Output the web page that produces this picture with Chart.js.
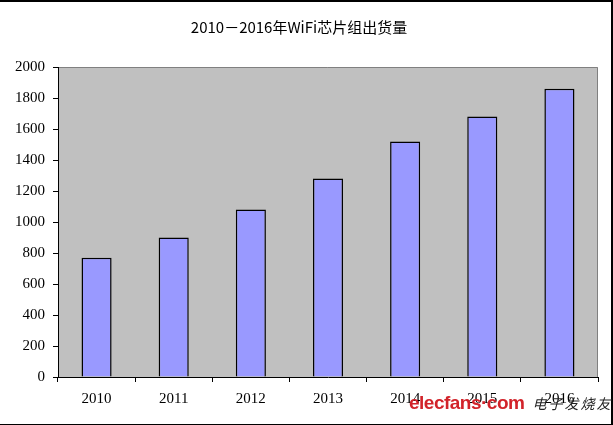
<!DOCTYPE html>
<html lang="zh">
<head>
    <meta charset="UTF-8">
    <title>2010-2016年WiFi芯片组出货量</title>
    <script src="https://cdn.jsdelivr.net/npm/chart.js"></script>
    <style>
        html, body { margin: 0; padding: 0; background: #fff; }
        #wrap { position: relative; width: 613px; height: 425px; }
        #frame { position: absolute; left: 0; top: 0; width: 611px; height: 422px;
                 border-top: 2px solid #000; border-right: 2px solid #000; border-bottom: 1px solid #000; pointer-events: none; }
        #wm { position: absolute; left: 409px; top: 392px; white-space: nowrap; }
        #wm .en { font-family: "Liberation Sans", Arial, sans-serif; font-weight: bold; font-size: 19px; color: #d2232a; letter-spacing: -0.5px; }
        #wm .cn { font-family: "Noto Sans CJK SC", sans-serif; font-style: italic; font-size: 14px; color: #222; margin-left: 8px; letter-spacing: 2px; }
    </style>
</head>
<body>
<div id="wrap">
    <canvas id="chart" width="613" height="425"></canvas>
    <div id="frame"></div>
    <div id="wm"><span class="en">elecfans·com</span><span class="cn">电子发烧友</span></div>
</div>
<script>
    // data
    const years = ['2010', '2011', '2012', '2013', '2014', '2015', '2016'];
    const shipments = [770, 900, 1080, 1280, 1520, 1680, 1860];
    const yMin = 0;
    const yMax = 2000;
    const yStep = 200;
    const titleText = '2010－2016年WiFi芯片组出货量';

    // grey plot area + thin border on top/right
    const plotBackground = {
        id: 'plotBackground',
        beforeDraw(chart) {
            const { ctx, chartArea: a } = chart;
            ctx.save();
            ctx.fillStyle = '#c0c0c0';
            ctx.fillRect(a.left, a.top, a.right - a.left, a.bottom - a.top);
            ctx.strokeStyle = '#808080';
            ctx.lineWidth = 1;
            ctx.beginPath();
            ctx.moveTo(a.left, a.top + 0.5);
            ctx.lineTo(a.right - 0.5, a.top + 0.5);
            ctx.lineTo(a.right - 0.5, a.bottom);
            ctx.stroke();
            ctx.restore();
        }
    };

    const tickFont = { family: '"Liberation Serif", "Times New Roman", serif', size: 15 };

    new Chart(document.getElementById('chart'), {
        type: 'bar',
        data: {
            labels: years,
            datasets: [{
                data: shipments,
                backgroundColor: '#9999ff',
                borderColor: '#000000',
                borderWidth: 1.5,
                barPercentage: 0.39,
                categoryPercentage: 1
            }]
        },
        options: {
            responsive: false,
            animation: false,
            layout: { padding: { left: 0, right: 15, top: 0, bottom: 0 } },
            plugins: {
                legend: { display: false },
                tooltip: { enabled: false },
                title: {
                    display: true,
                    text: titleText,
                    color: '#000',
                    font: { family: '"Noto Sans CJK SC", sans-serif', size: 15, weight: 'normal' },
                    padding: { top: 18, bottom: 31 }
                }
            },
            scales: {
                x: {
                    offset: true,
                    grid: { display: true, offset: true, drawOnChartArea: false, tickLength: 5, color: '#000' },
                    border: { color: '#000', width: 1 },
                    ticks: { color: '#000', font: tickFont, padding: 8, maxRotation: 0 },
                    afterFit(s) { s.height = 48; }
                },
                y: {
                    min: yMin,
                    max: yMax,
                    grid: { display: true, drawOnChartArea: false, tickLength: 5, color: '#000' },
                    border: { color: '#000', width: 1 },
                    ticks: { stepSize: yStep, color: '#000', font: tickFont, padding: 8,
                             callback: v => String(v) },
                    afterFit(s) { s.width = 58; }
                }
            }
        },
        plugins: [plotBackground]
    });
</script>
</body>
</html>
